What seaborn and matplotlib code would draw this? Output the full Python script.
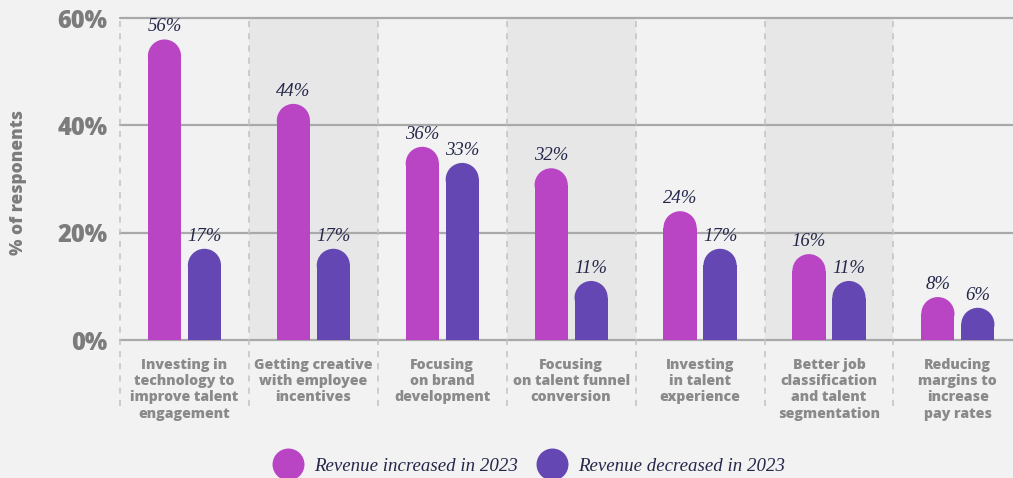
import matplotlib
matplotlib.use("Agg")
import matplotlib.pyplot as plt
from matplotlib.patches import Ellipse
from matplotlib.lines import Line2D
import seaborn as sns
import pandas as pd

categories = [
    "Investing in\ntechnology to\nimprove talent\nengagement",
    "Getting creative\nwith employee\nincentives",
    "Focusing\non brand\ndevelopment",
    "Focusing\non talent funnel\nconversion",
    "Investing\nin talent\nexperience",
    "Better job\nclassification\nand talent\nsegmentation",
    "Reducing\nmargins to\nincrease\npay rates",
]
increased = [56, 44, 36, 32, 24, 16, 8]
decreased = [17, 17, 33, 11, 17, 11, 6]
series_names = ["Revenue increased in 2023", "Revenue decreased in 2023"]
y_ticks = [0, 20, 40, 60]
y_tick_labels = ["0%", "20%", "40%", "60%"]

colors = ["#b944c4", "#6447b3"]
bg = "#f2f2f2"
band = "#e7e7e7"
label_navy = "#24274a"
grey_text = "#7c7c7c"
sans_bold = ["Open Sans", "DejaVu Sans"]
heavy = 800

df = pd.DataFrame({
    "category": categories * 2,
    "value": increased + decreased,
    "series": [series_names[0]] * len(categories) + [series_names[1]] * len(categories),
})

sns.set_theme(style="white")
plt.rcParams["font.family"] = sans_bold

W, H = 1013, 478
fig = plt.figure(figsize=(W / 100, H / 100), dpi=100, facecolor=bg)
ax = fig.add_axes([120 / W, 1 - 340 / H, (W - 120) / W, (340 - 18) / H])
ax.set_facecolor(bg)

sns.barplot(data=df, x="category", y="value", hue="series", palette=colors,
            width=0.62, gap=0.17, saturation=1, legend=False, ax=ax,
            edgecolor="none", linewidth=0,
            err_kws={"linewidth": 0}, zorder=3)

n = len(categories)
cat_w = 128.9
ax.set_xlim(-0.5, -0.5 + (W - 120) / cat_w)
ax.set_ylim(0, 60)

# alternating background bands
for i in range(1, n, 2):
    ax.axvspan(i - 0.5, i + 0.5, color=band, zorder=0, lw=0)

# horizontal grid lines
for t in y_ticks:
    ax.axhline(t, color="#a9a9a9", lw=1.6, zorder=1, clip_on=False)

# dashed separators running down into the label area
for b in [i - 0.5 for i in range(n + 1)]:
    ax.plot([b, b], [-12.3, 60], color="#c2c2c2", lw=1.1,
            linestyle=(0, (4, 4)), zorder=1, clip_on=False)

# value labels, then rounded caps on each bar
px_per_unit_y = (340 - 18) / 60
for cont in ax.containers:
    ax.bar_label(cont, labels=[f"{int(round(r.get_height()))}%" for r in cont],
                 padding=3, fontsize=13.5, family="Liberation Serif",
                 style="italic", color=label_navy)
    for r in cont:
        h = r.get_height()
        wx = r.get_width()
        ry = (wx * cat_w / 2) / px_per_unit_y
        r.set_height(h - ry)
        cap = Ellipse((r.get_x() + wx / 2, h - ry), wx, 2 * ry,
                      facecolor=r.get_facecolor(), edgecolor="none",
                      linewidth=0, zorder=3)
        ax.add_patch(cap)

ax.set_yticks(y_ticks)
ax.set_yticklabels(y_tick_labels, fontsize=17, fontweight=heavy,
                   color=grey_text, family=sans_bold)
ax.tick_params(axis="y", length=0, pad=9)
ax.tick_params(axis="x", length=0, pad=13)
for lab in ax.get_xticklabels():
    lab.set_fontsize(10.2)
    lab.set_fontweight(heavy)
    lab.set_family(sans_bold)
    lab.set_color("#8a8a8a")
    lab.set_linespacing(1.2)
    lab.set_verticalalignment("top")

ax.set_xlabel("")
ax.set_ylabel("% of responents", fontsize=12.5, fontweight=heavy,
              color=grey_text, family=sans_bold)
ax.yaxis.set_label_coords((27 - 120) / (W - 120), 0.49)
for s in ax.spines.values():
    s.set_visible(False)

handles = [Line2D([0], [0], marker="o", linestyle="none", markersize=23,
                  markerfacecolor=c, markeredgecolor="none") for c in colors]
fig.legend(handles, series_names, loc="center", bbox_to_anchor=(529 / W, 1 - 466 / H),
           ncol=2, frameon=False, handletextpad=0.62, columnspacing=0.95,
           handlelength=1.6,
           prop={"family": "Liberation Serif", "style": "italic", "size": 13.6},
           labelcolor=label_navy)

fig.savefig("out.png", dpi=100, facecolor=bg)
